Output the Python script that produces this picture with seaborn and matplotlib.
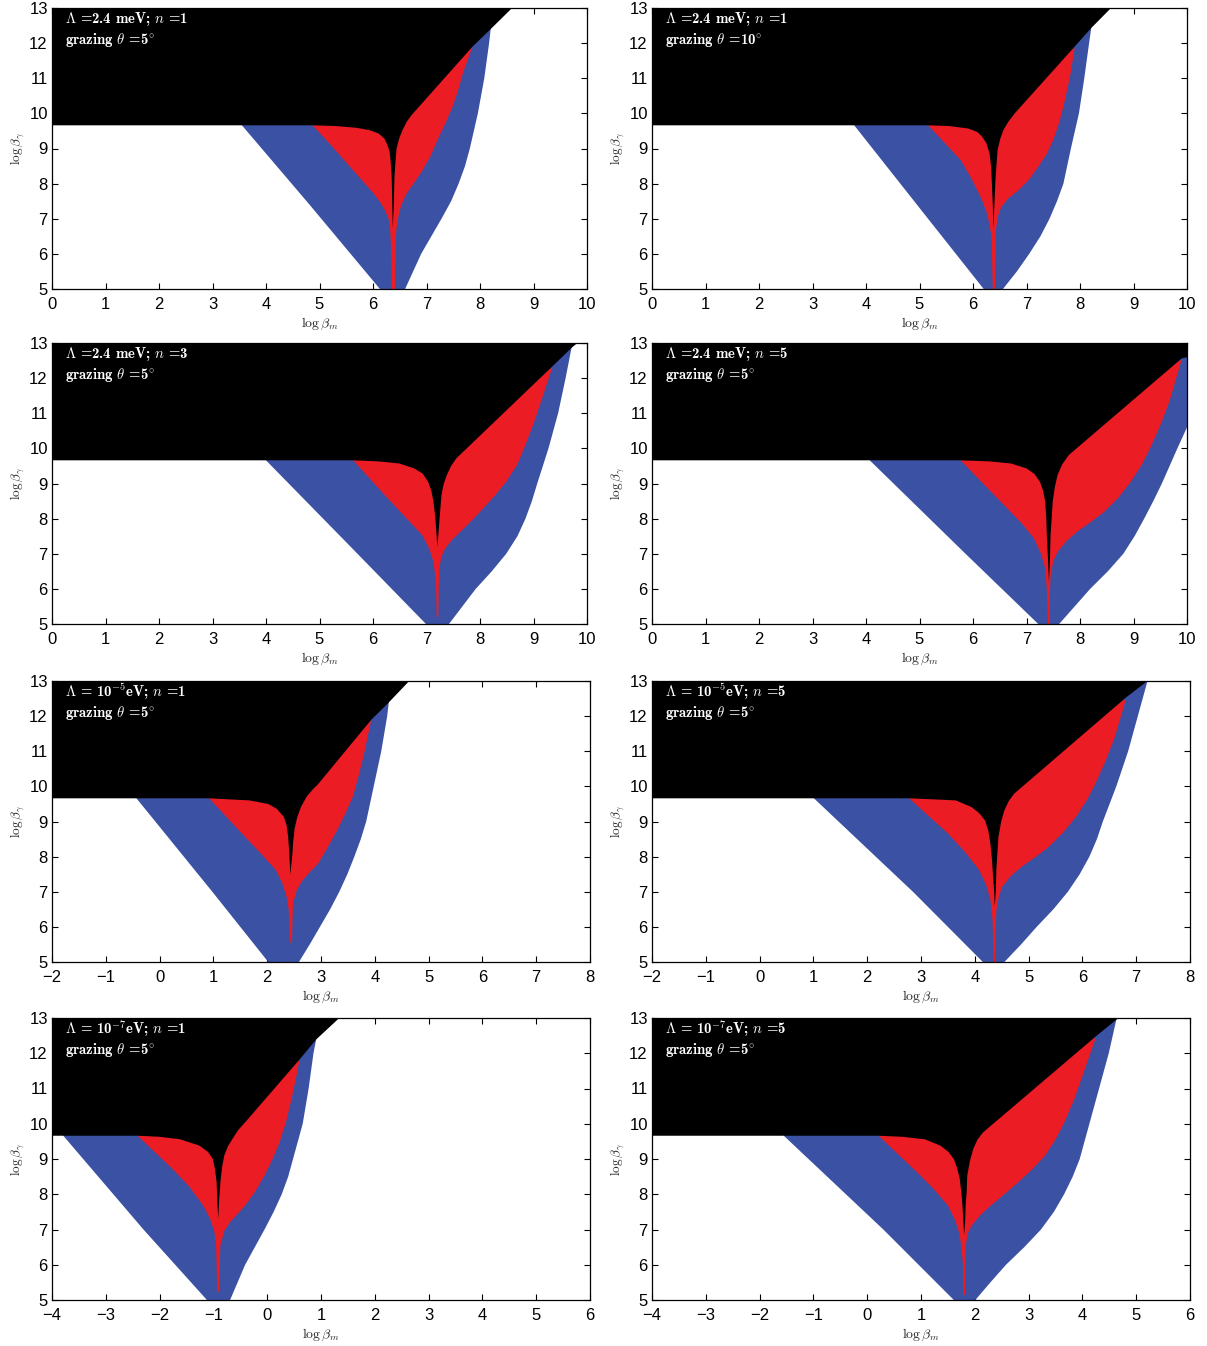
import matplotlib
matplotlib.use("Agg")
import matplotlib.pyplot as plt
import seaborn as sns

# ---------------------------------------------------------------------------
# Panel annotations and axis ranges
# ---------------------------------------------------------------------------
LINE1 = [
    r"$\mathbf{\Lambda}$ =2.4 meV; $n$ =1",
    r"$\mathbf{\Lambda}$ =2.4 meV; $n$ =1",
    r"$\mathbf{\Lambda}$ =2.4 meV; $n$ =3",
    r"$\mathbf{\Lambda}$ =2.4 meV; $n$ =5",
    r"$\mathbf{\Lambda}$ = 10$^{\mathbf{-5}}$eV; $n$ =1",
    r"$\mathbf{\Lambda}$ = 10$^{\mathbf{-5}}$eV; $n$ =5",
    r"$\mathbf{\Lambda}$ = 10$^{\mathbf{-7}}$eV; $n$ =1",
    r"$\mathbf{\Lambda}$ = 10$^{\mathbf{-7}}$eV; $n$ =5",
]
THETA_DEG = [5, 10, 5, 5, 5, 5, 5, 5]
XLIMS = [(0, 10), (0, 10), (0, 10), (0, 10), (-2, 8), (-2, 8), (-4, 6), (-4, 6)]
YLIM = (5, 13)

# lower edge of the excluded (black) region on the left
FLOOR = 9.66

# ---------------------------------------------------------------------------
# Region boundaries, (log beta_m, log beta_gamma) pairs, one list per panel
# ---------------------------------------------------------------------------
# outer left edge of the blue band (bottom -> top)
BLUE_LEFT = [
    [(6.13, 5.0), (4.82, 7.39), (3.55, 9.66)],
    [(6.20, 5.0), (5.16, 7.0), (3.78, 9.66)],
    [(6.99, 5.0), (5.71, 7.0), (4.00, 9.66)],
    [(7.22, 5.0), (5.86, 7.0), (4.07, 9.66)],
    [(2.02, 5.0), (0.98, 7.0), (-0.43, 9.66)],
    [(4.15, 5.0), (2.85, 7.0), (1.01, 9.66)],
    [(-1.12, 5.0), (-2.30, 7.0), (-3.79, 9.66)],
    [(1.61, 5.0), (0.30, 7.0), (-1.55, 9.66)],
]
# outer right edge of the blue band (bottom -> top)
BLUE_RIGHT = [
    [(6.60, 5.0), (6.75, 5.5), (6.90, 6.0), (7.09, 6.5), (7.28, 7.0), (7.46, 7.5), (7.60, 8.0), (7.72, 8.5),
     (7.81, 9.0), (7.96, 10.0), (8.08, 11.0), (8.17, 12.0), (8.20, 12.40)],
    [(6.56, 5.0), (6.82, 5.5), (7.05, 6.0), (7.26, 6.5), (7.43, 7.0), (7.57, 7.5), (7.69, 8.0), (7.83, 9.0),
     (7.98, 10.0), (8.08, 11.0), (8.17, 12.0), (8.21, 12.43)],
    [(7.42, 5.0), (7.67, 5.5), (7.92, 6.0), (8.22, 6.5), (8.49, 7.0), (8.70, 7.5), (8.85, 8.0), (8.97, 8.5),
     (9.07, 9.0), (9.28, 10.0), (9.46, 11.0), (9.60, 12.0), (9.71, 12.86)],
    [(7.61, 5.0), (7.90, 5.5), (8.19, 6.0), (8.52, 6.5), (8.81, 7.0), (9.02, 7.5), (9.20, 8.0), (9.37, 8.5),
     (9.53, 9.0), (9.82, 10.0), (10.0, 10.6), (10.2, 11.6), (10.3, 12.7)],
    [(2.59, 5.0), (2.79, 5.5), (2.98, 6.0), (3.17, 6.5), (3.34, 7.0), (3.49, 7.5), (3.62, 8.0), (3.74, 8.5),
     (3.84, 9.0), (3.98, 10.0), (4.12, 11.0), (4.23, 12.0), (4.26, 12.39)],
    [(4.55, 5.0), (4.86, 5.5), (5.15, 6.0), (5.46, 6.5), (5.73, 7.0), (5.95, 7.5), (6.13, 8.0), (6.27, 8.5),
     (6.38, 9.0), (6.63, 10.0), (6.85, 11.0), (7.03, 12.0), (7.21, 13.0)],
    [(-0.69, 5.0), (-0.55, 5.5), (-0.41, 6.0), (-0.23, 6.5), (-0.05, 7.0), (0.12, 7.5), (0.27, 8.0), (0.39, 8.5),
     (0.48, 9.0), (0.66, 10.0), (0.77, 11.0), (0.86, 12.0), (0.91, 12.39)],
    [(2.01, 5.0), (2.29, 5.5), (2.58, 6.0), (2.92, 6.5), (3.23, 7.0), (3.47, 7.5), (3.66, 8.0), (3.82, 8.5),
     (3.95, 9.0), (4.13, 10.0), (4.31, 11.0), (4.49, 12.0), (4.63, 12.95)],
]
# point where the black region meets the top of the frame
BLACK_TOP = [(8.60, 13.0), (8.58, 13.0), (9.82, 13.0), (10.5, 13.0),
             (4.64, 13.0), (7.24, 13.0), (1.34, 13.0), (4.67, 13.0)]
# red/blue boundary on the left (top -> bottom, ending at the thin stem)
RED_LEFT = [
    [(4.87, 9.66), (5.20, 9.12), (5.50, 8.60), (5.82, 8.05), (6.00, 7.74), (6.13, 7.48), (6.22, 7.25),
     (6.29, 7.01), (6.32, 6.72), (6.33, 6.44), (6.34, 6.00), (6.35, 5.0)],
    [(5.16, 9.66), (5.47, 9.16), (5.77, 8.67), (5.98, 8.12), (6.17, 7.53), (6.25, 7.20), (6.30, 6.90),
     (6.34, 6.55), (6.35, 6.30), (6.37, 5.0)],
    [(5.63, 9.66), (6.20, 8.70), (6.60, 8.05), (6.92, 7.53), (7.05, 7.15), (7.13, 6.77), (7.17, 6.30),
     (7.18, 6.00), (7.19, 5.2)],
    [(5.77, 9.66), (6.20, 8.98), (6.64, 8.29), (6.92, 7.85), (7.14, 7.44), (7.27, 7.00), (7.35, 6.58),
     (7.38, 6.00), (7.40, 5.0)],
    [(0.92, 9.66), (1.59, 8.56), (1.90, 8.06), (2.16, 7.62), (2.28, 7.25), (2.36, 6.86), (2.40, 6.50),
     (2.41, 6.11), (2.43, 5.54)],
    [(2.78, 9.66), (3.50, 8.66), (3.82, 8.13), (4.08, 7.62), (4.21, 7.20), (4.29, 6.77), (4.33, 6.20),
     (4.35, 5.0)],
    [(-2.41, 9.66), (-1.76, 8.72), (-1.45, 8.22), (-1.19, 7.68), (-1.06, 7.30), (-0.98, 6.93), (-0.95, 6.50),
     (-0.94, 5.99), (-0.93, 5.24)],
    [(0.21, 9.66), (0.93, 8.62), (1.23, 8.16), (1.50, 7.68), (1.64, 7.25), (1.72, 6.84), (1.76, 6.40),
     (1.78, 6.00), (1.79, 5.14)],
]
# red/blue boundary on the right (bottom of the stem -> top of the red lobe)
RED_RIGHT = [
    [(6.41, 5.0), (6.42, 6.30), (6.44, 6.75), (6.48, 7.10), (6.53, 7.39), (6.62, 7.70), (6.75, 7.98),
     (6.91, 8.34), (7.08, 8.80), (7.22, 9.29), (7.37, 9.77), (7.50, 10.24), (7.60, 10.70), (7.69, 11.19),
     (7.86, 11.90)],
    [(6.41, 5.0), (6.42, 6.58), (6.46, 7.05), (6.53, 7.34), (6.66, 7.58), (6.85, 7.81), (7.05, 8.12),
     (7.22, 8.48), (7.38, 8.85), (7.50, 9.24), (7.62, 9.78), (7.72, 10.38), (7.82, 11.10), (7.90, 11.86)],
    [(7.22, 5.2), (7.23, 6.20), (7.24, 6.58), (7.28, 6.92), (7.35, 7.15), (7.48, 7.40), (7.63, 7.62),
     (7.85, 7.95), (8.06, 8.29), (8.28, 8.66), (8.49, 9.05), (8.70, 9.55), (8.85, 10.10), (9.00, 10.70),
     (9.14, 11.33), (9.35, 12.30)],
    [(7.43, 5.0), (7.44, 6.00), (7.45, 6.38), (7.50, 6.78), (7.58, 7.05), (7.74, 7.35), (7.94, 7.62),
     (8.20, 7.90), (8.45, 8.19), (8.72, 8.60), (8.95, 9.05), (9.15, 9.52), (9.31, 10.00), (9.50, 10.65),
     (9.67, 11.33), (9.90, 12.52)],
    [(2.46, 5.54), (2.47, 6.20), (2.48, 6.67), (2.55, 7.05), (2.66, 7.33), (2.80, 7.57), (2.95, 7.81),
     (3.12, 8.25), (3.30, 8.75), (3.45, 9.22), (3.59, 9.70), (3.70, 10.30), (3.80, 10.92), (3.93, 11.87)],
    [(4.38, 5.0), (4.39, 6.00), (4.40, 6.48), (4.45, 6.88), (4.51, 7.14), (4.67, 7.45), (4.87, 7.71),
     (5.12, 7.98), (5.37, 8.27), (5.65, 8.70), (5.88, 9.13), (6.08, 9.60), (6.24, 10.07), (6.43, 10.72),
     (6.60, 11.39), (6.81, 12.48)],
    [(-0.89, 5.24), (-0.88, 6.10), (-0.87, 6.55), (-0.80, 6.95), (-0.69, 7.21), (-0.55, 7.44), (-0.41, 7.68),
     (-0.22, 8.08), (-0.05, 8.53), (0.10, 9.00), (0.23, 9.47), (0.35, 10.05), (0.45, 10.69), (0.53, 11.25),
     (0.60, 11.80)],
    [(1.82, 5.14), (1.82, 6.10), (1.83, 6.55), (1.87, 6.90), (1.94, 7.11), (2.10, 7.40), (2.29, 7.67),
     (2.55, 8.00), (2.80, 8.33), (3.05, 8.68), (3.30, 9.08), (3.50, 9.55), (3.66, 10.02), (3.85, 10.70),
     (4.02, 11.44), (4.25, 12.44)],
]
# lower edge of the black region: round the left red lobe, down the
# central spike, and up along the right red lobe
SPIKE = [
    [(4.87, 9.66), (5.30, 9.64), (5.69, 9.59), (5.94, 9.52), (6.10, 9.43), (6.21, 9.29), (6.27, 9.10),
     (6.31, 8.91), (6.33, 8.62), (6.35, 8.15), (6.36, 7.39), (6.37, 6.74), (6.39, 7.39), (6.40, 8.15),
     (6.42, 8.62), (6.44, 9.00), (6.49, 9.29), (6.55, 9.52), (6.63, 9.76), (6.72, 9.95), (7.86, 11.90)],
    [(5.16, 9.66), (5.55, 9.64), (5.91, 9.57), (6.08, 9.47), (6.17, 9.34), (6.25, 9.15), (6.31, 8.86),
     (6.34, 8.45), (6.35, 8.10), (6.37, 7.40), (6.38, 6.72), (6.40, 7.40), (6.42, 8.10), (6.44, 8.55),
     (6.46, 8.96), (6.51, 9.28), (6.57, 9.53), (6.66, 9.76), (6.78, 10.00), (7.90, 11.90)],
    [(5.63, 9.66), (6.10, 9.63), (6.49, 9.57), (6.77, 9.43), (6.93, 9.28), (7.03, 9.05), (7.09, 8.80),
     (7.13, 8.48), (7.16, 8.10), (7.17, 7.91), (7.19, 7.50), (7.20, 7.20), (7.22, 7.50), (7.24, 7.91),
     (7.26, 8.30), (7.28, 8.67), (7.32, 8.98), (7.38, 9.24), (7.46, 9.50), (7.56, 9.72), (9.35, 12.33)],
    [(5.77, 9.66), (6.30, 9.63), (6.71, 9.57), (7.00, 9.43), (7.15, 9.27), (7.25, 9.05), (7.31, 8.80),
     (7.35, 8.48), (7.37, 8.00), (7.38, 7.53), (7.40, 6.90), (7.42, 6.20), (7.44, 6.90), (7.45, 7.53),
     (7.47, 8.00), (7.49, 8.48), (7.53, 8.90), (7.58, 9.24), (7.67, 9.55), (7.79, 9.81), (9.90, 12.56)],
    [(0.92, 9.66), (1.30, 9.63), (1.67, 9.60), (2.02, 9.50), (2.18, 9.36), (2.31, 9.13), (2.36, 8.90),
     (2.39, 8.56), (2.41, 8.10), (2.42, 7.80), (2.43, 7.48), (2.45, 7.80), (2.47, 8.10), (2.48, 8.37),
     (2.51, 8.80), (2.56, 9.13), (2.63, 9.42), (2.73, 9.70), (2.84, 9.90), (2.95, 10.07), (3.93, 11.89)],
    [(2.78, 9.66), (3.25, 9.63), (3.65, 9.60), (3.94, 9.41), (4.08, 9.24), (4.19, 9.03), (4.25, 8.75),
     (4.29, 8.37), (4.32, 7.90), (4.34, 7.43), (4.36, 7.00), (4.37, 6.58), (4.39, 7.00), (4.40, 7.62),
     (4.42, 8.10), (4.44, 8.56), (4.49, 9.00), (4.55, 9.32), (4.63, 9.58), (4.73, 9.79), (6.81, 12.53)],
    [(-2.41, 9.66), (-2.00, 9.63), (-1.62, 9.56), (-1.26, 9.38), (-1.10, 9.20), (-1.01, 9.00), (-0.97, 8.70),
     (-0.94, 8.34), (-0.93, 7.90), (-0.91, 7.31), (-0.89, 7.90), (-0.87, 8.34), (-0.84, 8.75), (-0.80, 9.09),
     (-0.73, 9.36), (-0.65, 9.56), (-0.54, 9.82), (-0.41, 10.04), (0.60, 11.82)],
    [(0.21, 9.66), (0.65, 9.63), (1.07, 9.56), (1.36, 9.38), (1.51, 9.20), (1.61, 9.00), (1.67, 8.75),
     (1.72, 8.44), (1.75, 8.05), (1.77, 7.69), (1.79, 7.20), (1.80, 6.84), (1.82, 7.20), (1.83, 7.69),
     (1.85, 8.10), (1.86, 8.53), (1.91, 8.95), (1.97, 9.28), (2.05, 9.55), (2.15, 9.75), (4.25, 12.48)],
]

BLUE = "#3b51a3"
RED = "#ec1c24"
BLACK = "#000000"

# ---------------------------------------------------------------------------
# Style
# ---------------------------------------------------------------------------
sns.set_theme(style="ticks")
plt.rcParams.update({
    "font.family": ["Liberation Sans Narrow", "Liberation Sans", "DejaVu Sans"],
    "mathtext.fontset": "cm",
    "axes.linewidth": 0.9,
    "axes.edgecolor": "black",
    "xtick.direction": "in",
    "ytick.direction": "in",
    "xtick.top": True,
    "ytick.right": True,
    "xtick.major.size": 4,
    "ytick.major.size": 4,
    "xtick.major.width": 0.8,
    "ytick.major.width": 0.8,
    "xtick.color": "black",
    "ytick.color": "black",
    "xtick.labelsize": 12,
    "ytick.labelsize": 12,
})

W, H = 1207, 1346
fig = plt.figure(figsize=(W / 100, H / 100), dpi=100)

# axes boxes in pixels: (top, width, height) per row, left edge per column
col_left = [52, 652]
row_boxes = [(8, 535, 281), (343, 535, 281), (681, 538, 281), (1018, 538, 282)]


def add_panel(i):
    row, col = divmod(i, 2)
    top, width, height = row_boxes[row]
    left = col_left[col]
    ax = fig.add_axes([left / W, 1 - (top + height) / H, width / W, height / H])
    xmin, xmax = XLIMS[i]

    bl, br = BLUE_LEFT[i], BLUE_RIGHT[i]
    rl, rr = RED_LEFT[i], RED_RIGHT[i]

    # blue band (its upper part is hidden under the black region)
    blue_poly = bl + [(bl[-1][0], YLIM[1]), (br[-1][0], YLIM[1])] + br[::-1]
    bx, by = zip(*blue_poly)
    ax.fill(bx, by, color=BLUE, lw=0, zorder=1)

    # red band with its thin stem
    red_poly = rl + rr
    rx, ry = zip(*red_poly)
    ax.fill(rx, ry, color=RED, lw=0, zorder=2)

    # black excluded region
    black_poly = [(xmin, FLOOR)] + SPIKE[i] + [br[-1], BLACK_TOP[i], (xmin, YLIM[1])]
    kx, ky = zip(*black_poly)
    ax.fill(kx, ky, color=BLACK, lw=0, zorder=3)

    ax.set_xlim(xmin, xmax)
    ax.set_ylim(*YLIM)
    ax.set_xticks(range(xmin, xmax + 1))
    ax.set_yticks(range(YLIM[0], YLIM[1] + 1))
    ax.tick_params(axis="x", pad=5.5)
    ax.tick_params(axis="y", pad=3)
    for s in ax.spines.values():
        s.set_zorder(5)
        s.set_linewidth(0.9)

    ax.set_xlabel(r"$\log\beta_m$", fontsize=10)
    ax.xaxis.set_label_coords(0.5, -0.094)
    ax.set_ylabel(r"$\log\beta_\gamma$", fontsize=9.5)
    ax.yaxis.set_label_coords(-0.046, 0.5)

    ax.text(0.024, 0.962, LINE1[i], transform=ax.transAxes, color="white",
            family="cmb10", fontsize=10.6, ha="left", va="center", zorder=6)
    ax.text(0.024, 0.885, r"grazing $\theta$ =%d$^{\circ}$" % THETA_DEG[i],
            transform=ax.transAxes, color="white", family="cmb10", fontsize=10.6,
            ha="left", va="center", zorder=6)
    return ax


for k in range(8):
    add_panel(k)

fig.savefig("out.png", dpi=100, facecolor="white")
